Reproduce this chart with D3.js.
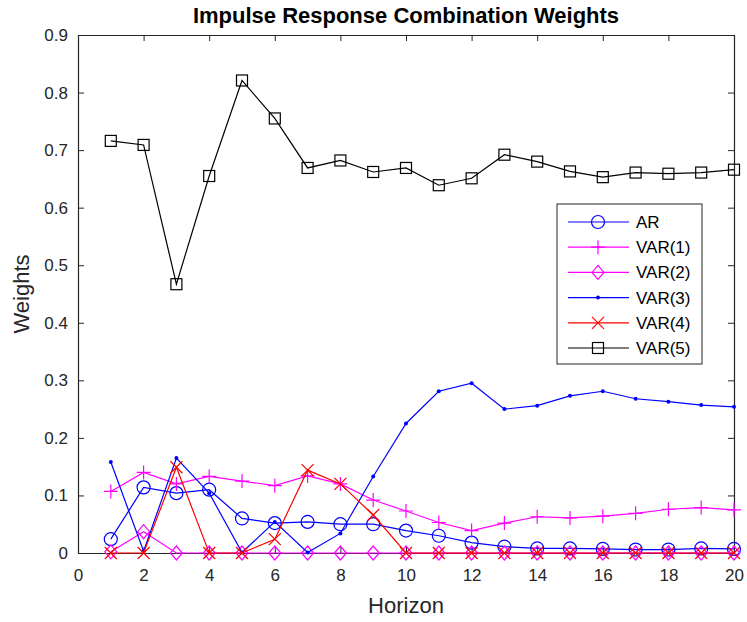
<!DOCTYPE html>
<html>
<head>
<meta charset="utf-8">
<script src="https://cdn.jsdelivr.net/npm/d3@7"></script>
<style>
  body { margin: 0; background: #fff; }
  text { font-family: "Liberation Sans", Arial, sans-serif; }
</style>
</head>
<body>
<div id="chart"></div>
<script>
// horizons 1..20
var horizon = [1,2,3,4,5,6,7,8,9,10,11,12,13,14,15,16,17,18,19,20];

var arW   = [0.024,0.114,0.104,0.110,0.060,0.052,0.054,0.050,0.050,0.039,0.030,0.018,0.011,0.008,0.008,0.007,0.006,0.006,0.008,0.007];
var var1W = [0.107,0.140,0.120,0.133,0.125,0.117,0.134,0.120,0.092,0.073,0.053,0.039,0.052,0.063,0.061,0.064,0.069,0.076,0.079,0.075];
var var2W = [0.002,0.037,0,0,0,0,0,0,0,0,0,0,0,0,0,0,0,0,0,0];
var var3W = [0.158,0.003,0.165,0.104,0.001,0.054,0.001,0.034,0.133,0.225,0.281,0.295,0.250,0.256,0.273,0.281,0.268,0.263,0.257,0.254];
var var4W = [0,0,0.149,0,0,0.024,0.144,0.120,0.066,0,0,0,0,0,0,0,0,0,0,0];
var var5W = [0.716,0.709,0.467,0.655,0.821,0.755,0.669,0.682,0.662,0.669,0.639,0.651,0.692,0.680,0.663,0.653,0.661,0.659,0.661,0.666];

var xTicks = [0,2,4,6,8,10,12,14,16,18,20];
var yTicks = [0,0.1,0.2,0.3,0.4,0.5,0.6,0.7,0.8,0.9];

var series = [
  {name: "AR",     values: arW,   color: "#0000ff", marker: "circle"},
  {name: "VAR(1)", values: var1W, color: "#ff00ff", marker: "plus"},
  {name: "VAR(2)", values: var2W, color: "#ff00ff", marker: "diamond"},
  {name: "VAR(3)", values: var3W, color: "#0000ff", marker: "dot"},
  {name: "VAR(4)", values: var4W, color: "#ff0000", marker: "cross"},
  {name: "VAR(5)", values: var5W, color: "#000000", marker: "square"}
];

var W = 747, H = 622;
var margin = {top: 35, right: 13, bottom: 69, left: 78},
    width = W - margin.left - margin.right,
    height = H - margin.top - margin.bottom;

var svg = d3.select("#chart").append("svg")
    .attr("width", W).attr("height", H);
var g = svg.append("g")
    .attr("transform", "translate(" + margin.left + "," + margin.top + ")");

var x = d3.scaleLinear().domain([0, 20]).range([0, width]);
var y = d3.scaleLinear().domain([0, 0.9]).range([height, 0]);

var axisColor = "#262626";
var tickLen = 6;

// axes, MATLAB style: ticks inward, box on
var xAxisB = g.append("g")
    .attr("transform", "translate(0," + height + ")")
    .call(d3.axisBottom(x).tickValues(xTicks).tickSizeInner(-tickLen).tickSizeOuter(0).tickPadding(16).tickFormat(d3.format("d")));
var yAxisL = g.append("g")
    .call(d3.axisLeft(y).tickValues(yTicks).tickSizeInner(-tickLen).tickSizeOuter(0).tickPadding(10)
      .tickFormat(function(d) { return d === 0 ? "0" : d3.format(".1f")(d); }));
var xAxisT = g.append("g")
    .call(d3.axisTop(x).tickValues(xTicks).tickSizeInner(-tickLen).tickSizeOuter(0).tickFormat(""));
var yAxisR = g.append("g")
    .attr("transform", "translate(" + width + ",0)")
    .call(d3.axisRight(y).tickValues(yTicks).tickSizeInner(-tickLen).tickSizeOuter(0).tickFormat(""));

[xAxisB, yAxisL, xAxisT, yAxisR].forEach(function(a) {
  a.selectAll("path").attr("stroke", axisColor).attr("stroke-width", 1.2);
  a.selectAll("line").attr("stroke", axisColor);
  a.selectAll("text").attr("fill", axisColor).style("font-size", "17px")
    .style("font-family", "'Liberation Sans', Arial, sans-serif");
});

// title and labels
svg.append("text")
    .attr("x", margin.left + width / 2).attr("y", 23)
    .attr("text-anchor", "middle")
    .style("font-size", "22px").style("font-weight", "bold")
    .attr("fill", "#000")
    .text("Impulse Response Combination Weights");
svg.append("text")
    .attr("x", margin.left + width / 2).attr("y", 613)
    .attr("text-anchor", "middle")
    .style("font-size", "22px").attr("fill", axisColor)
    .text("Horizon");
svg.append("text")
    .attr("transform", "translate(29," + (margin.top + height / 2) + ") rotate(-90)")
    .attr("text-anchor", "middle")
    .style("font-size", "22px").attr("fill", axisColor)
    .text("Weights");

function drawMarker(sel, type, color) {
  if (type === "circle") {
    sel.append("circle").attr("r", 6.5).attr("fill", "none").attr("stroke", color).attr("stroke-width", 1.2);
  } else if (type === "square") {
    sel.append("rect").attr("x", -5.5).attr("y", -5.5).attr("width", 11).attr("height", 11)
      .attr("fill", "none").attr("stroke", color).attr("stroke-width", 1.2);
  } else if (type === "diamond") {
    sel.append("path").attr("d", "M0,-7L6,0L0,7L-6,0Z").attr("fill", "none").attr("stroke", color).attr("stroke-width", 1.2);
  } else if (type === "plus") {
    sel.append("path").attr("d", "M-7,0H7M0,-7V7").attr("stroke", color).attr("stroke-width", 1.2);
  } else if (type === "cross") {
    sel.append("path").attr("d", "M-6,-6L6,6M-6,6L6,-6").attr("stroke", color).attr("stroke-width", 1.2);
  } else if (type === "dot") {
    sel.append("circle").attr("r", 2).attr("fill", color);
  }
}

var line = d3.line()
    .x(function(d, i) { return x(horizon[i]); })
    .y(function(d) { return y(d); });

series.forEach(function(s) {
  var sg = g.append("g");
  sg.append("path")
    .attr("d", line(s.values))
    .attr("fill", "none").attr("stroke", s.color).attr("stroke-width", 1.2);
  s.values.forEach(function(v, i) {
    var m = sg.append("g").attr("transform", "translate(" + x(horizon[i]) + "," + y(v) + ")");
    drawMarker(m, s.marker, s.color);
  });
});

// legend
var lg = svg.append("g").attr("transform", "translate(557,204)");
lg.append("rect").attr("width", 145).attr("height", 160)
  .attr("fill", "#fff").attr("stroke", axisColor).attr("stroke-width", 1);
series.forEach(function(s, i) {
  var ry = 18 + i * 25.2;
  var row = lg.append("g").attr("transform", "translate(0," + ry + ")");
  row.append("line").attr("x1", 11).attr("x2", 72).attr("y1", 0).attr("y2", 0)
    .attr("stroke", s.color).attr("stroke-width", 1.2);
  var m = row.append("g").attr("transform", "translate(41,0)");
  drawMarker(m, s.marker, s.color);
  row.append("text").attr("x", 79).attr("y", 0).attr("dy", "0.35em")
    .style("font-size", "17px").attr("fill", "#000").text(s.name);
});
</script>
</body>
</html>
